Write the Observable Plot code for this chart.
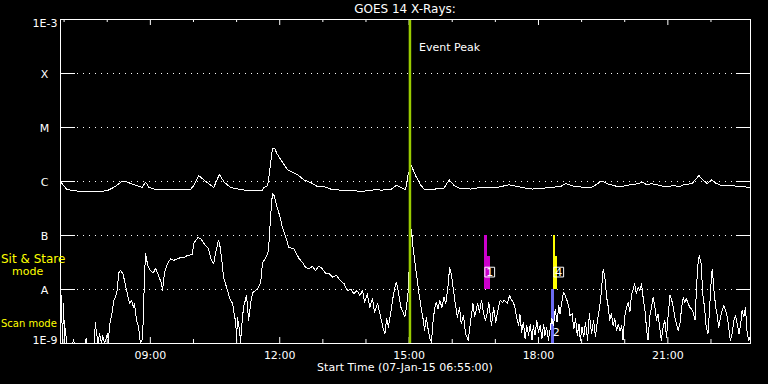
<!DOCTYPE html>
<html><head><meta charset="utf-8">
<script src="https://cdn.jsdelivr.net/npm/d3@7"></script>
<script src="https://cdn.jsdelivr.net/npm/@observablehq/plot@0.6"></script>
<style>
html,body{margin:0;padding:0;background:#000;}
#wrap{position:relative;width:768px;height:384px;overflow:hidden;background:#000;font-family:"DejaVu Sans",sans-serif;color:#fff;}
#chart{position:absolute;left:0;top:0;}
.lbl{position:absolute;font-size:11px;line-height:11px;white-space:nowrap;}
</style></head><body>
<div id="wrap">
<div id="chart"></div>
<div class="lbl" style="left:0;width:810px;text-align:center;top:3px;font-size:12px;line-height:12px;">GOES 14 X-Rays:</div>
<div class="lbl" style="left:0;width:810px;text-align:center;top:362px;">Start Time (07-Jan-15 06:55:00)</div>
<div class="lbl" style="left:1px;top:253px;color:#ff0;font-size:12px;line-height:12px;">Sit &amp; Stare</div>
<div class="lbl" style="left:12px;top:266px;color:#ff0">mode</div>
<div class="lbl" style="left:1px;top:319px;color:#ff0;font-size:10px;line-height:10px;">Scan mode</div>
</div>
<script>
// ---- time axis (decimal hours UT, 07-Jan-2015) ----
const startHour = 6 + 55/60;
const endHour = startHour + 16;
const majorHours = [9, 12, 15, 18, 21];
const minorHours = [7, 8, 10, 11, 13, 14, 16, 17, 19, 20, 22];

// ---- flux levels ----
const levelValues = [1e-8, 1e-7, 1e-6, 1e-5, 1e-4];
const levelNames = ["A", "B", "C", "M", "X"];
const edgeValues = [1e-9, 1e-3];
const edgeNames = ["1E-9", "1E-3"];

// ---- GOES long channel (1-8 Å): hour, log10 flux ----
const longHour = [6.93,7.07,7.34,7.77,8.00,8.15,8.36,8.46,8.62,8.81,8.89,8.97,9.08,9.31,9.39,9.70,9.93,10.01,10.12,10.24,10.47,10.60,10.71,10.86,11.09,11.33,11.60,11.63,11.72,11.74,11.83,11.88,11.94,12.06,12.18,12.29,12.41,12.56,12.72,12.87,13.02,13.18,13.41,13.65,13.88,14.11,14.23,14.34,14.57,14.71,14.81,14.92,14.98,15.05,15.15,15.27,15.35,15.50,15.81,15.93,16.04,16.16,16.43,16.66,17.05,17.31,17.61,17.85,18.17,18.52,18.63,18.82,19.21,19.47,19.59,19.86,20.14,20.33,20.40,20.51,20.63,20.79,20.98,21.14,21.26,21.37,21.56,21.72,21.79,21.91,22.02,22.11,22.23,22.49,22.69,22.88,22.92];
const longLog = [-6.02,-6.15,-6.18,-6.19,-6.17,-6.11,-5.99,-6.01,-6.06,-6.11,-6.01,-6.11,-6.14,-6.14,-6.15,-6.15,-6.15,-6.07,-5.89,-5.97,-6.11,-5.87,-6.01,-6.11,-6.15,-6.17,-6.17,-6.11,-6.08,-5.98,-5.39,-5.38,-5.49,-5.64,-5.78,-5.83,-5.87,-5.97,-6.02,-6.09,-6.09,-6.14,-6.16,-6.17,-6.18,-6.17,-6.14,-6.16,-6.15,-6.07,-6.11,-6.15,-5.86,-5.70,-5.89,-6.07,-6.14,-6.15,-6.12,-5.97,-6.07,-6.12,-6.14,-6.11,-6.11,-6.06,-6.11,-6.14,-6.12,-6.09,-6.04,-6.09,-6.12,-5.99,-6.04,-6.10,-6.06,-6.04,-6.01,-6.06,-6.04,-6.07,-6.10,-6.07,-6.10,-6.06,-6.04,-5.89,-5.95,-6.04,-5.97,-6.03,-6.07,-6.08,-6.09,-6.11,-6.11];

// ---- GOES short channel (0.5-4 Å): hour, log10 flux ----
const shortHour = [6.94,6.96,6.99,7.01,7.03,7.06,7.20,7.22,7.24,7.50,7.51,7.53,7.71,7.72,7.75,7.79,7.82,7.87,7.89,7.94,8.01,8.03,8.05,8.08,8.12,8.15,8.19,8.24,8.26,8.31,8.36,8.40,8.45,8.50,8.52,8.56,8.61,8.63,8.68,8.73,8.75,8.77,8.82,8.84,8.87,8.89,8.94,9.00,9.07,9.12,9.19,9.26,9.28,9.33,9.40,9.47,9.54,9.63,9.70,9.77,9.86,9.98,10.00,10.10,10.17,10.28,10.35,10.40,10.47,10.51,10.58,10.61,10.65,10.70,10.79,10.84,10.91,10.93,10.98,11.00,11.02,11.07,11.09,11.12,11.16,11.19,11.23,11.28,
11.33,11.37,11.44,11.51,11.56,11.60,11.67,11.74,11.79,11.83,11.87,11.94,12.01,12.06,12.14,12.21,12.33,12.45,12.52,12.60,12.68,12.76,12.83,12.91,12.99,13.07,13.14,13.22,13.32,13.40,13.49,13.57,13.65,13.72,13.79,13.86,13.92,13.97,14.03,14.09,14.15,14.20,14.27,14.34,14.40,14.44,14.48,14.52,14.57,14.64,14.70,14.74,14.81,14.86,14.90,14.94,14.98,15.02,15.06,15.08,15.12,15.17,15.23,15.29,15.33,15.36,15.40,15.44,15.48,15.52,15.55,15.59,15.63,15.67,15.71,15.76,15.81,15.85,15.90,15.94,15.98,16.03,16.07,16.12,16.17,16.21,16.26,16.31,16.37,16.43,16.48,16.52,16.59,16.63,16.68,16.73,16.77,16.80,16.85,16.91,16.96,17.01,17.05,17.11,17.17,17.20,17.28,17.33,17.37,17.42,17.46,17.50,17.54,17.57,17.61,17.65,17.69,17.73,17.77,17.81,17.85,17.88,17.92,17.96,18.00,18.04,18.08,18.12,18.15,18.19,18.23,18.27,18.31,18.35,18.39,18.43,18.47,18.50,18.54,18.58,18.62,18.66,18.70,18.73,18.78,18.82,18.86,18.90,18.94,18.97,19.01,19.05,19.09,19.14,19.18,19.23,19.28,19.32,19.37,19.42,19.46,19.50,19.54,19.58,19.62,19.65,19.69,19.73,19.77,19.81,19.85,19.89,19.93,19.96,20.00,20.04,20.08,20.12,20.16,20.20,20.23,20.27,20.31,20.35,20.39,20.43,20.47,20.51,20.54,20.58,20.62,20.66,20.70,20.74,20.77,20.81,20.85,20.89,20.93,20.97,21.01,21.05,21.09,21.12,21.16,21.20,21.24,21.28,21.32,21.36,21.39,21.43,21.47,21.51,21.55,21.59,21.63,21.67,21.70,21.73,21.77,21.81,21.85,21.89,21.93,21.97,22.01,22.03,22.07,22.11,22.14,22.18,22.22,22.26,22.30,22.34,22.38,22.42,22.45,22.49,22.53,22.57,22.61,22.65,22.69,22.72,22.76,22.80,22.84,22.88,22.92];
const shortLog = [-8.11,-9,-8.26,-9,-8.72,-9,-9,-8.93,-9,-9,-8.91,-9,-9,-8.61,-8.80,-9,-8.81,-9,-8.85,-9,-8.81,-9,-8.67,-8.57,-8.39,-8.20,-8.15,-7.98,-7.70,-7.65,-7.70,-7.83,-8.02,-8.20,-8.26,-8.20,-8.33,-8.26,-8.57,-8.70,-8.89,-8.98,-8.91,-8.39,-7.65,-7.33,-7.56,-7.65,-7.69,-7.61,-7.74,-7.89,-8.02,-7.69,-7.52,-7.43,-7.46,-7.43,-7.41,-7.41,-7.37,-7.35,-7.15,-7.04,-7.06,-7.19,-7.24,-7.43,-7.52,-7.33,-7.09,-7.17,-7.41,-7.78,-8.02,-8.17,-8.26,-8.39,-8.61,-8.94,-8.52,-8.76,-8.98,-8.67,-8.33,-8.24,-8.11,-8.57,
-8.24,-8.06,-8.02,-7.96,-7.87,-7.50,-7.43,-7.28,-6.63,-6.23,-6.26,-6.48,-6.66,-6.85,-7.03,-7.22,-7.25,-7.43,-7.49,-7.59,-7.62,-7.57,-7.65,-7.56,-7.62,-7.71,-7.70,-7.77,-7.74,-7.83,-7.89,-8.02,-7.99,-8.08,-8.02,-8.11,-8.02,-8.24,-8.08,-8.33,-8.17,-8.42,-8.26,-8.51,-8.73,-8.82,-8.54,-8.70,-8.45,-8.08,-7.86,-7.99,-8.33,-8.42,-8.51,-8.33,-8.02,-7.28,-6.88,-7.15,-7.40,-7.71,-8.08,-8.39,-8.57,-8.76,-8.51,-8.73,-8.91,-8.98,-8.64,-8.36,-8.24,-8.36,-8.20,-8.33,-8.14,-8.26,-7.96,-7.59,-7.71,-8.02,-8.26,-8.51,-8.33,-8.64,-8.48,-8.82,-8.94,-8.57,-8.26,-8.51,-8.26,-8.42,-8.20,-8.45,-8.57,-8.48,-8.24,-8.67,-8.33,-8.61,-8.42,-8.20,-8.24,-8.20,-8.26,-8.11,-8.19,-8.24,-8.36,-8.54,-8.67,-8.45,-8.79,-8.61,-8.91,-8.67,-8.85,-8.64,-8.94,-8.67,-8.85,-8.57,-8.79,-8.67,-8.91,-8.64,-8.85,-8.70,-8.94,-8.73,-8.54,-8.67,-8.36,-8.61,-8.30,-8.45,-8.24,-8.05,-8.11,-8.20,-8.30,-8.48,-8.45,-8.73,-8.54,-8.85,-8.64,-8.94,-8.70,-8.88,-8.61,-8.94,-8.45,-8.82,-8.57,-8.88,-8.57,-8.33,-8.02,-7.62,-7.77,-8.14,-8.33,-8.57,-8.45,-8.67,-8.54,-8.76,-8.64,-8.76,-8.67,-8.94,-8.51,-8.33,-8.24,-8.42,-8.08,-7.99,-7.89,-8.08,-7.96,-8.02,-7.89,-8.17,-8.39,-8.76,-8.94,-8.51,-8.33,-8.14,-8.33,-8.57,-8.45,-8.70,-8.94,-8.70,-8.57,-8.88,-8.45,-8.11,-8.20,-8.30,-8.51,-8.64,-8.76,-8.64,-8.33,-8.14,-8.24,-8.17,-8.26,-8.33,-8.36,-8.42,-8.57,-7.89,-7.52,-7.37,-7.52,-8.08,-8.33,-8.70,-8.82,-8.33,-7.77,-7.62,-8.02,-8.33,-8.45,-8.70,-8.51,-8.39,-8.30,-8.39,-8.51,-8.76,-8.94,-8.82,-8.57,-8.48,-8.64,-8.82,-8.64,-8.39,-8.51,-8.33,-8.82,-8.94,-8.85];

// ---- event peak ----
const peakHour = 15.02;
const peakLabel = "Event Peak";

// ---- observation bars (start hour, end hour, low flux, high flux, colour) ----
const obsStart = [16.75, 16.75, 18.35, 18.35, 18.31];
const obsEnd   = [16.82, 16.89, 18.40, 18.43, 18.38];
const obsLow   = [1e-8, 1e-8, 1e-8, 1e-8, 1e-9];
const obsHigh  = [1e-7, 4e-8, 1e-7, 4e-8, 1e-8];
const obsColor = ["#cc00cc", "#cc00cc", "#ffff00", "#ffff00", "#6b6bf2"];

// ---- observation labels ----
const obsLabelText  = ["1", "4", "2"];
const obsLabelHour  = [16.87, 18.47, 18.41];
const obsLabelLevel = [2.1e-8, 2.1e-8, 1.6e-9];
const obsLabelBoxed = [true, true, false];

const longData = longHour.map((h, i) => ({h, flux: 10 ** longLog[i]}));
const shortData = shortHour.map((h, i) => ({h, flux: 10 ** shortLog[i]}));
const obsData = obsStart.map((s, i) => ({s, e: obsEnd[i], lo: obsLow[i], hi: obsHigh[i], c: obsColor[i]}));
const labelData = obsLabelText.map((t, i) => ({t, h: obsLabelHour[i], v: obsLabelLevel[i], boxed: obsLabelBoxed[i]}));

const W = 768, H = 384, mL = 60, mR = 18, mT = 19, mB = 41;
const plotW = W - mL - mR, plotH = H - mT - mB;
const fmtHour = h => String(h).padStart(2, "0") + ":00";

const chart = Plot.plot({
  width: W, height: H,
  marginLeft: mL, marginRight: mR, marginTop: mT, marginBottom: mB,
  style: {background: "#000", color: "#fff", fontFamily: "DejaVu Sans, sans-serif", fontSize: "11px"},
  x: {type: "linear", domain: [startHour, endHour], label: null},
  y: {type: "log", domain: [1e-9, 1e-3], label: null},
  marks: [
    Plot.tickY(levelValues, {y: d => d, stroke: "#fff", strokeDasharray: "1,5", insetLeft: 17, insetRight: 15}),
    Plot.tickY(levelValues, {y: d => d, stroke: "#fff", insetRight: plotW - 15}),
    Plot.tickY(levelValues, {y: d => d, stroke: "#fff", insetLeft: plotW - 14}),
    Plot.tickX(majorHours, {x: d => d, stroke: "#fff", insetBottom: plotH - 6}),
    Plot.tickX(minorHours, {x: d => d, stroke: "#fff", insetBottom: plotH - 3}),
    Plot.tickX(majorHours, {x: d => d, stroke: "#fff", insetTop: plotH - 6}),
    Plot.tickX(minorHours, {x: d => d, stroke: "#fff", insetTop: plotH - 4}),
    Plot.rect(obsData, {x1: "s", x2: "e", y1: "lo", y2: "hi", fill: "c", shapeRendering: "crispEdges"}),
    Plot.line(longData, {x: "h", y: "flux", stroke: "#fff", strokeWidth: 1, clip: true, shapeRendering: "crispEdges"}),
    Plot.line(shortData, {x: "h", y: "flux", stroke: "#fff", strokeWidth: 1, clip: true, shapeRendering: "crispEdges"}),
    Plot.ruleX([peakHour], {x: d => d, stroke: "#99cc00", strokeWidth: 2.5}),
    Plot.text([peakHour], {x: d => d, frameAnchor: "top", text: () => peakLabel, textAnchor: "start", dx: 9, dy: 24, fill: "#fff", fontSize: 11}),
    Plot.dot(labelData.filter(d => d.boxed), {x: "h", y: "v", symbol: "square", r: 5.5, stroke: "#fff", strokeWidth: 1, fill: "none"}),
    Plot.text(labelData, {x: "h", y: "v", text: "t", fill: "#fff", fontSize: 11}),
    Plot.frame({stroke: "#fff"}),
    Plot.axisX(majorHours, {anchor: "bottom", tickSize: 0, tickPadding: 8, tickFormat: fmtHour, label: null, fontSize: 11}),
    Plot.axisY(levelValues, {anchor: "left", tickSize: 0, tickPadding: 16, textAnchor: "middle", dy: 1, tickFormat: d => levelNames[levelValues.indexOf(d)], label: null, fontSize: 11}),
    Plot.axisY([edgeValues[1]], {anchor: "left", tickSize: 0, tickPadding: 3, dy: 4, tickFormat: () => edgeNames[1], label: null, fontSize: 11}),
    Plot.axisY([edgeValues[0]], {anchor: "left", tickSize: 0, tickPadding: 3, dy: -3, tickFormat: () => edgeNames[0], label: null, fontSize: 11})
  ]
});
document.getElementById("chart").appendChild(chart);
</script>
</body></html>
